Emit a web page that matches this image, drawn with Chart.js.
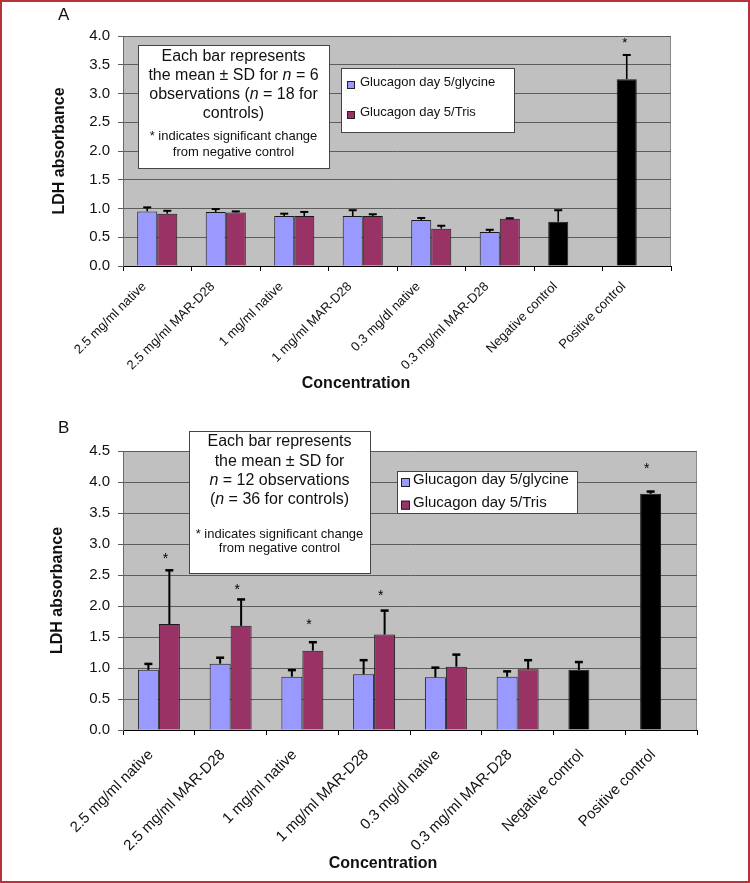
<!DOCTYPE html>
<html>
<head>
<meta charset="utf-8">
<script src="https://cdn.jsdelivr.net/npm/chart.js@4.4.1/dist/chart.umd.min.js"></script>
<style>
  html, body { margin: 0; padding: 0; background: #fff; }
  body { width: 750px; height: 883px; position: relative; overflow: hidden; }
  canvas { position: absolute; left: 0; }
  #chartA { top: 0; }
  #chartB { top: 400px; }
  #frame { position: absolute; left: 0; top: 0; width: 750px; height: 883px; box-sizing: border-box; border: 2px solid #b8323a; pointer-events: none; }
</style>
</head>
<body>
<canvas id="chartA" width="750" height="400"></canvas>
<canvas id="chartB" width="750" height="483"></canvas>
<div id="frame"></div>
<script>
const FAMILY = '"Liberation Sans", Arial, Helvetica, sans-serif';
Chart.defaults.font.family = FAMILY;
Chart.defaults.color = '#111';

const categories = ['2.5 mg/ml native', '2.5 mg/ml MAR-D28', '1 mg/ml native', '1 mg/ml MAR-D28',
    '0.3 mg/dl native', '0.3 mg/ml MAR-D28', 'Negative control', 'Positive control'];
const seriesNames = ['Glucagon day 5/glycine', 'Glucagon day 5/Tris'];

// Panel A (n = 6); the two controls sit in the glycine slot
const glycineA = [0.95, 0.94, 0.87, 0.87, 0.80, 0.59, 0.77, 3.25];
const glycineSdA = [0.07, 0.05, 0.04, 0.10, 0.035, 0.04, 0.20, 0.42];
const trisA = [0.91, 0.93, 0.87, 0.87, 0.65, 0.82, null, null];
const trisSdA = [0.05, 0.02, 0.07, 0.03, 0.05, 0.01, null, null];
const glycineStarA = [null, null, null, null, null, null, null, 3.93];
const trisStarA = [null, null, null, null, null, null, null, null];
const yMaxA = 4.0;

// Panel B (n = 12)
const glycineB = [0.97, 1.07, 0.86, 0.90, 0.85, 0.86, 0.97, 3.81];
const glycineSdB = [0.10, 0.10, 0.11, 0.23, 0.16, 0.09, 0.13, 0.04];
const trisB = [1.71, 1.68, 1.28, 1.54, 1.02, 0.98, null, null];
const trisSdB = [0.87, 0.43, 0.14, 0.39, 0.20, 0.15, null, null];
const glycineStarB = [null, null, null, null, null, null, null, 4.26];
const trisStarB = [2.80, 2.30, 1.74, 2.21, null, null, null, null];
const yMaxB = 4.5;

const yStep = 0.5;

const noteA = ['Each bar represents', 'the mean \u00b1 SD for {n} = 6', 'observations ({n} = 18 for', 'controls)'];
const noteB = ['Each bar represents', 'the mean \u00b1 SD for', '{n} = 12 observations', '({n} = 36 for controls)'];
const footnote = ['* indicates significant change', 'from negative control'];

const glycineColor = '#9999ff';
const trisColor = '#993366';
const controlColor = '#000000';

// draw a centred line where {n} is set in italics
function drawRich(ctx, line, cx, y, size) {
    const parts = line.split('{n}');
    const normal = size + 'px ' + FAMILY;
    const ital = 'italic ' + size + 'px ' + FAMILY;
    let w = 0;
    parts.forEach((p, k) => {
        ctx.font = normal; w += ctx.measureText(p).width;
        if (k < parts.length - 1) { ctx.font = ital; w += ctx.measureText('n').width; }
    });
    let x = cx - w / 2;
    ctx.textAlign = 'left';
    parts.forEach((p, k) => {
        ctx.font = normal; ctx.fillText(p, x, y); x += ctx.measureText(p).width;
        if (k < parts.length - 1) { ctx.font = ital; ctx.fillText('n', x, y); x += ctx.measureText('n').width; }
    });
}

const panelDecor = {
    id: 'panelDecor',
    beforeDraw(chart) {
        const { ctx, chartArea: a } = chart;
        ctx.save();
        ctx.fillStyle = '#c0c0c0';
        ctx.fillRect(a.left, a.top, a.right - a.left, a.bottom - a.top);
        ctx.strokeStyle = '#8a8a8a';
        ctx.lineWidth = 1;
        ctx.beginPath();
        ctx.moveTo(a.left, a.top + 0.5);
        ctx.lineTo(a.right - 0.5, a.top + 0.5);
        ctx.lineTo(a.right - 0.5, a.bottom);
        ctx.stroke();
        ctx.restore();
    },
    afterDatasetsDraw(chart, args, o) {
        const { ctx } = chart;
        const y = chart.scales.y;
        ctx.save();
        chart.data.datasets.forEach((ds, di) => {
            const meta = chart.getDatasetMeta(di);
            meta.data.forEach((bar, i) => {
                const v = ds.data[i];
                if (v == null) return;
                const sd = ds.sd[i];
                if (sd) {
                    const yTop = y.getPixelForValue(v + sd);
                    ctx.strokeStyle = '#000';
                    ctx.fillStyle = '#000';
                    ctx.lineWidth = o.errWidth;
                    ctx.beginPath();
                    ctx.moveTo(bar.x, bar.y);
                    ctx.lineTo(bar.x, yTop);
                    ctx.stroke();
                    ctx.fillRect(bar.x - o.capHalf, yTop - 1, o.capHalf * 2, o.capThick);
                }
                const s = ds.stars[i];
                if (s != null) {
                    ctx.fillStyle = '#000';
                    ctx.font = o.starFont + 'px ' + FAMILY;
                    ctx.textAlign = 'center';
                    ctx.textBaseline = 'alphabetic';
                    ctx.fillText('*', bar.x + o.starDx, y.getPixelForValue(s) + 7);
                }
            });
        });
        ctx.restore();
    },
    afterDraw(chart, args, o) {
        const { ctx } = chart;
        ctx.save();
        ctx.fillStyle = '#111';
        ctx.textBaseline = 'alphabetic';

        // panel letter
        ctx.font = '17px ' + FAMILY;
        ctx.textAlign = 'left';
        ctx.fillText(o.letter, o.letterPos[0], o.letterPos[1]);

        // x-axis title
        ctx.font = 'bold 16px ' + FAMILY;
        ctx.textAlign = 'center';
        ctx.fillText('Concentration', o.xTitlePos[0], o.xTitlePos[1]);

        // note box
        const nb = o.noteBox;
        ctx.fillStyle = '#fff';
        ctx.fillRect(nb[0], nb[1], nb[2], nb[3]);
        ctx.strokeStyle = '#444';
        ctx.lineWidth = 1;
        ctx.strokeRect(nb[0] + 0.5, nb[1] + 0.5, nb[2], nb[3]);
        ctx.fillStyle = '#111';
        o.note.forEach((line, k) => drawRich(ctx, line, nb[0] + nb[2] / 2, o.noteBase[k], 16));
        footnote.forEach((line, k) => drawRich(ctx, line, nb[0] + nb[2] / 2, o.footBase[k], 13));

        // legend box
        const lb = o.legendBox;
        ctx.fillStyle = '#fff';
        ctx.fillRect(lb[0], lb[1], lb[2], lb[3]);
        ctx.strokeStyle = '#444';
        ctx.strokeRect(lb[0] + 0.5, lb[1] + 0.5, lb[2], lb[3]);
        ctx.font = o.legendFont + 'px ' + FAMILY;
        ctx.textAlign = 'left';
        [glycineColor, trisColor].forEach((c, k) => {
            const base = o.legendRows[k];
            ctx.fillStyle = c;
            ctx.fillRect(o.legendX, base - o.swatchUp, o.swatch, o.swatch);
            ctx.strokeStyle = '#222';
            ctx.strokeRect(o.legendX + 0.5, base - o.swatchUp + 0.5, o.swatch - 1, o.swatch - 1);
            ctx.fillStyle = '#111';
            ctx.fillText(chart.data.datasets[k].label, o.legendX + o.textGap, base);
        });
        ctx.restore();
    }
};

function makeChart(id, gly, glySd, glyStar, tris, trisSd, trisStar, yMax, p) {
    return new Chart(document.getElementById(id), {
        type: 'bar',
        data: {
            labels: categories,
            datasets: [
                {
                    label: seriesNames[0],
                    data: gly,
                    sd: glySd,
                    stars: glyStar,
                    backgroundColor: categories.map(c => c.endsWith('control') ? controlColor : glycineColor),
                    borderColor: '#1a1a1a',
                    borderWidth: 1,
                    categoryPercentage: 0.585,
                    barPercentage: 1.0
                },
                {
                    label: seriesNames[1],
                    data: tris,
                    sd: trisSd,
                    stars: trisStar,
                    backgroundColor: trisColor,
                    borderColor: '#1a1a1a',
                    borderWidth: 1,
                    categoryPercentage: 0.585,
                    barPercentage: 1.0
                }
            ]
        },
        options: {
            responsive: false,
            animation: false,
            layout: { padding: p.padding },
            scales: {
                x: {
                    afterFit: (scale) => { scale.height = p.xHeight; },
                    grid: { display: true, drawOnChartArea: false, drawTicks: true, tickLength: 5, color: '#000' },
                    border: { display: true, color: '#000', width: 1 },
                    ticks: {
                        autoSkip: false,
                        minRotation: 45,
                        maxRotation: 45,
                        labelOffset: p.labelOffset,
                        padding: p.tickPad,
                        color: '#111',
                        font: { size: p.tickFont }
                    }
                },
                y: {
                    min: 0,
                    max: yMax,
                    afterFit: (scale) => { scale.width = p.yWidth; },
                    grid: { color: '#5c5c5c', tickLength: 5, drawTicks: true },
                    border: { display: true, color: '#6a6a6a' },
                    ticks: {
                        stepSize: yStep,
                        padding: 8,
                        color: '#111',
                        font: { size: 15 },
                        callback: (v) => Number(v).toFixed(1)
                    },
                    title: {
                        display: true,
                        text: 'LDH absorbance',
                        color: '#111',
                        font: { size: 16, weight: 'bold' },
                        padding: { top: p.yTitlePad, bottom: 0 }
                    }
                }
            },
            plugins: {
                legend: { display: false },
                tooltip: { enabled: false },
                panelDecor: p
            }
        },
        plugins: [panelDecor]
    });
}

makeChart('chartA', glycineA, glycineSdA, glycineStarA, trisA, trisSdA, trisStarA, yMaxA, {
    padding: { left: 40, right: 79, top: 36, bottom: 0 },
    yWidth: 83, xHeight: 134, yTitlePad: 10,
    tickFont: 13, labelOffset: -13, tickPad: 8,
    errWidth: 1.6, capHalf: 4, capThick: 2, starFont: 13, starDx: -2,
    letter: 'A', letterPos: [58, 20], xTitlePos: [356, 388],
    note: noteA, noteBox: [138, 45, 191, 123], noteBase: [61, 80, 99, 118], footBase: [140, 155.5],
    legendBox: [341, 68, 173, 64], legendRows: [86, 116], legendX: 347, swatch: 8, swatchUp: 5,
    textGap: 13, legendFont: 13
});

makeChart('chartB', glycineB, glycineSdB, glycineStarB, trisB, trisSdB, trisStarB, yMaxB, {
    padding: { left: 40, right: 53, top: 51, bottom: 0 },
    yWidth: 83, xHeight: 153, yTitlePad: 8,
    tickFont: 15, labelOffset: -8, tickPad: 11,
    errWidth: 2, capHalf: 4, capThick: 2.5, starFont: 14, starDx: -4,
    letter: 'B', letterPos: [58, 33], xTitlePos: [383, 468],
    note: noteB, noteBox: [189, 31, 181, 142], noteBase: [46, 65.7, 85, 103.5], footBase: [137.7, 151.7],
    legendBox: [397, 71, 180, 42], legendRows: [84, 106.7], legendX: 401, swatch: 9, swatchUp: 6,
    textGap: 12, legendFont: 15
});
</script>
</body>
</html>
